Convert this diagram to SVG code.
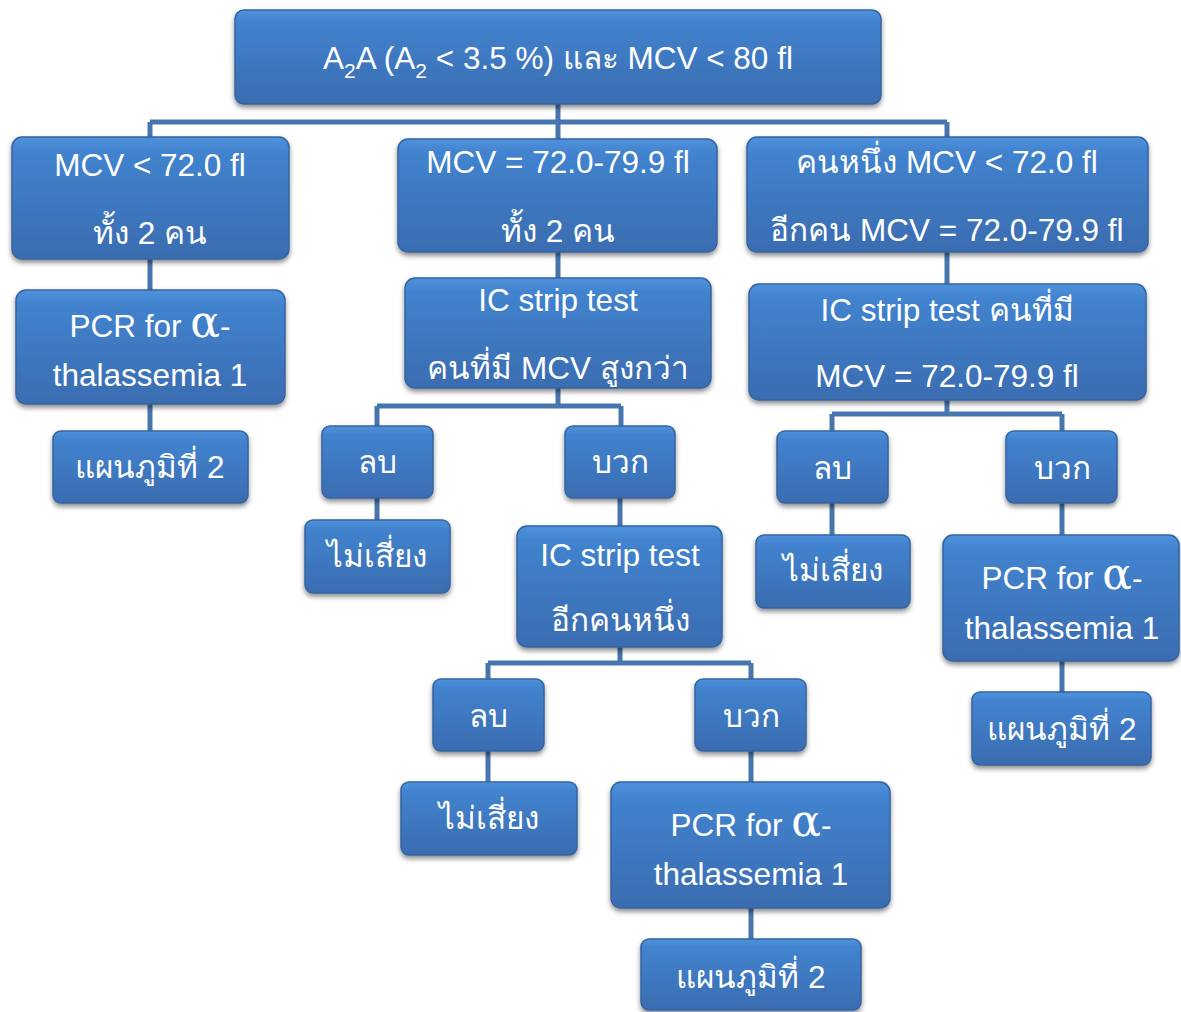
<svg xmlns="http://www.w3.org/2000/svg" width="1181" height="1012" viewBox="0 0 1181 1012">
<defs>
<linearGradient id="g" x1="0" y1="0" x2="0" y2="1">
<stop offset="0" stop-color="#5092dc"/>
<stop offset="0.12" stop-color="#4283cf"/>
<stop offset="1" stop-color="#3a6cb0"/>
</linearGradient>
<filter id="sh" x="-10%" y="-10%" width="120%" height="135%">
<feDropShadow dx="0" dy="3" stdDeviation="2.5" flood-color="#000" flood-opacity="0.45"/>
</filter>
</defs>
<style>
.b{fill:url(#g);stroke:#35649f;stroke-width:1.5;filter:url(#sh)}
.t{fill:#fff;font-family:"Liberation Sans","Noto Sans","DejaVu Sans",sans-serif;font-size:31.5px;text-anchor:middle}
.c{fill:none;stroke:#4676ad;stroke-width:5}
.a{font-family:"DejaVu Serif","Liberation Serif",serif;font-size:44px}
</style>
<g id="connectors">
<path class="c" d="M558 104V122M150 122H947M150 122V137M558 122V139M947 122V137"/>
<path class="c" d="M150 259V290M150 404V431"/>
<path class="c" d="M558 252V278M558 388V406M377 406H621M377 406V426M621 406V426M377 498V520M620 498V526"/>
<path class="c" d="M620 647V663M488 663H751M488 663V679M751 663V679M488 751V782M751 751V782M751 908V939"/>
<path class="c" d="M947 252V284M947 400V414M832 414H1062M832 414V431M1062 414V431M832 503V535M1062 503V535M1062 661V692"/>
</g>
<g id="n0"><rect class="b" x="235" y="10" width="646" height="94" rx="9"/>
<text class="t" x="558" y="69">A<tspan font-size="21" dy="9">2</tspan><tspan dy="-9">A (A</tspan><tspan font-size="21" dy="9">2</tspan><tspan dy="-9"> &lt; 3.5 %) และ MCV &lt; 80 fl</tspan></text></g>
<g id="n1"><rect class="b" x="12" y="137" width="277" height="122" rx="10"/>
<text class="t" x="150" y="176">MCV &lt; 72.0 fl</text><text class="t" x="150" y="244">ทั้ง 2 คน</text></g>
<g id="n2"><rect class="b" x="398" y="139" width="319" height="113" rx="10"/>
<text class="t" x="558" y="173">MCV = 72.0-79.9 fl</text><text class="t" x="558" y="242">ทั้ง 2 คน</text></g>
<g id="n3"><rect class="b" x="747" y="137" width="401" height="115" rx="10"/>
<text class="t" x="947" y="173">คนหนึ่ง MCV &lt; 72.0 fl</text><text class="t" x="947" y="241">อีกคน MCV = 72.0-79.9 fl</text></g>
<g id="n4"><rect class="b" x="16" y="290" width="269" height="114" rx="10"/>
<text class="t" x="150" y="337">PCR for <tspan class="a">α</tspan>-</text><text class="t" x="150" y="386">thalassemia 1</text></g>
<g id="n5"><rect class="b" x="53" y="431" width="195" height="72" rx="8"/>
<text class="t" x="150" y="478">แผนภูมิที่ 2</text></g>
<g id="n6"><rect class="b" x="405" y="278" width="306" height="110" rx="10"/>
<text class="t" x="558" y="311">IC strip test</text><text class="t" x="558" y="379">คนที่มี MCV สูงกว่า</text></g>
<g id="n7"><rect class="b" x="322" y="426" width="111" height="72" rx="8"/>
<text class="t" x="377" y="473">ลบ</text></g>
<g id="n8"><rect class="b" x="565" y="426" width="110" height="72" rx="8"/>
<text class="t" x="620" y="473">บวก</text></g>
<g id="n9"><rect class="b" x="305" y="520" width="145" height="73" rx="8"/>
<text class="t" x="377" y="567">ไม่เสี่ยง</text></g>
<g id="n10"><rect class="b" x="517" y="526" width="205" height="121" rx="10"/>
<text class="t" x="620" y="566">IC strip test</text><text class="t" x="620" y="631">อีกคนหนึ่ง</text></g>
<g id="n11"><rect class="b" x="433" y="679" width="111" height="72" rx="8"/>
<text class="t" x="488" y="727">ลบ</text></g>
<g id="n12"><rect class="b" x="695" y="679" width="111" height="72" rx="8"/>
<text class="t" x="751" y="727">บวก</text></g>
<g id="n13"><rect class="b" x="401" y="782" width="176" height="73" rx="8"/>
<text class="t" x="489" y="829">ไม่เสี่ยง</text></g>
<g id="n14"><rect class="b" x="611" y="782" width="279" height="126" rx="10"/>
<text class="t" x="751" y="836">PCR for <tspan class="a">α</tspan>-</text><text class="t" x="751" y="885">thalassemia 1</text></g>
<g id="n15"><rect class="b" x="641" y="939" width="220" height="71" rx="8"/>
<text class="t" x="751" y="988">แผนภูมิที่ 2</text></g>
<g id="n16"><rect class="b" x="749" y="284" width="397" height="116" rx="10"/>
<text class="t" x="947" y="321">IC strip test คนที่มี</text><text class="t" x="947" y="387">MCV = 72.0-79.9 fl</text></g>
<g id="n17"><rect class="b" x="777" y="431" width="111" height="72" rx="8"/>
<text class="t" x="832" y="479">ลบ</text></g>
<g id="n18"><rect class="b" x="1006" y="431" width="111" height="72" rx="8"/>
<text class="t" x="1062" y="479">บวก</text></g>
<g id="n19"><rect class="b" x="756" y="535" width="154" height="73" rx="8"/>
<text class="t" x="833" y="581">ไม่เสี่ยง</text></g>
<g id="n20"><rect class="b" x="943" y="535" width="236" height="126" rx="10"/>
<text class="t" x="1062" y="589">PCR for <tspan class="a">α</tspan>-</text><text class="t" x="1062" y="639">thalassemia 1</text></g>
<g id="n21"><rect class="b" x="972" y="692" width="179" height="73" rx="8"/>
<text class="t" x="1062" y="740">แผนภูมิที่ 2</text></g>
</svg>
